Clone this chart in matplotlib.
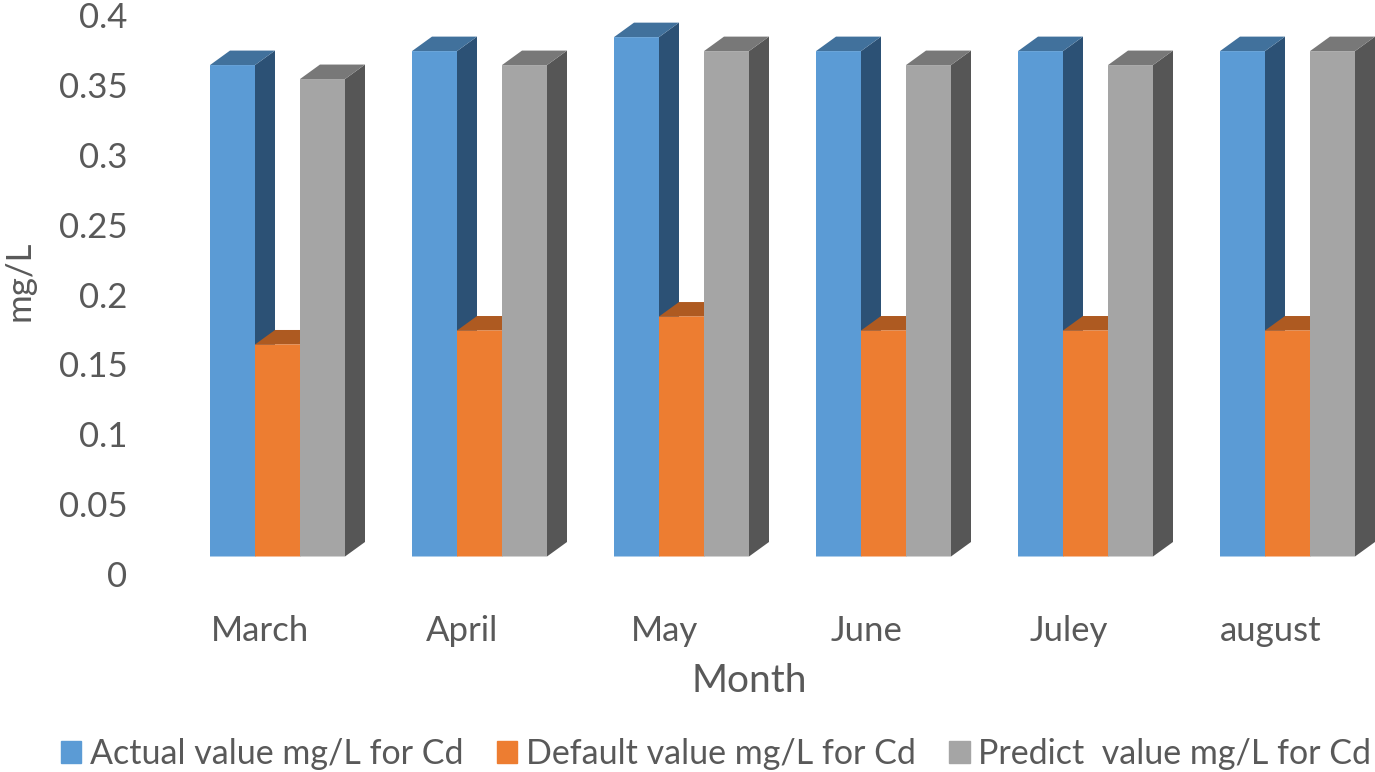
import matplotlib
matplotlib.use("Agg")
import matplotlib.pyplot as plt
from matplotlib.patches import Polygon, Patch

months = ["March", "April", "May", "June", "Juley", "august"]
actual = [0.36, 0.37, 0.38, 0.37, 0.37, 0.37]
default = [0.16, 0.17, 0.18, 0.17, 0.17, 0.17]
predict = [0.35, 0.36, 0.37, 0.36, 0.36, 0.37]
series_names = ["Actual value mg/L for Cd", "Default value mg/L for Cd", "Predict  value mg/L for Cd"]
y_ticks = [0, 0.05, 0.1, 0.15, 0.2, 0.25, 0.3, 0.35, 0.4]
y_tick_labels = ["0", "0.05", "0.1", "0.15", "0.2", "0.25", "0.3", "0.35", "0.4"]

W, H = 1375, 772
plt.rcParams["font.family"] = ["Lato", "DejaVu Sans"]
fig = plt.figure(figsize=(W / 100, H / 100), dpi=100, facecolor="white")

PX_X = 202.0      # pixels per category
PX_Y = 1397.0     # pixels per unit
X0 = 277.5        # pixel of first group's centre
Y0 = 568.0        # pixel of value 0 for bars
FLOOR = (Y0 - 556.5) / PX_Y
BW = 45 / PX_X
DX = 20 / PX_X
DY = 14.5 / PX_Y

ax = fig.add_axes([0, 0, 1, 1])
ax.set_xlim(-X0 / PX_X, (W - X0) / PX_X)
ax.set_ylim((Y0 - H) / PX_Y, Y0 / PX_Y)
ax.axis("off")

styles = [("#5B9BD5", "#41719C", "#2C5175"),
          ("#ED7D31", "#AE5A21", "#843C0C"),
          ("#A5A5A5", "#787878", "#565656")]
all_series = [actual, default, predict]

for i in range(len(months)):
    for k, vals in enumerate(all_series):
        front, top, side = styles[k]
        left = i + (k - 1.5) * BW
        v = vals[i]
        ax.add_patch(Polygon([(left + BW, FLOOR), (left + BW + DX, FLOOR + DY),
                              (left + BW + DX, v + DY), (left + BW, v)],
                             closed=True, fc=side, ec="none", zorder=2 + i * 3 + k))
        ax.add_patch(Polygon([(left, v), (left + DX, v + DY),
                              (left + BW + DX, v + DY), (left + BW, v)],
                             closed=True, fc=top, ec="none", zorder=2 + i * 3 + k))
        ax.bar(left, v - FLOOR, BW, bottom=FLOOR, align="edge", color=front,
               linewidth=0, zorder=2 + i * 3 + k, snap=False)

# Axis labels live on a transparent axes whose scale holds the printed tick positions
L, B = 133.0, 600.0
lab = fig.add_axes([L / W, (H - B) / H, 1 - L / W, B / H], facecolor="none")
lab.set_xlim((L - 260.5) / PX_X, (W - 260.5) / PX_X)
lab.set_ylim(-(B - 574) / PX_Y, 574 / PX_Y)
for s in lab.spines.values():
    s.set_visible(False)
lab.set_yticks(y_ticks, y_tick_labels)
lab.set_xticks(range(len(months)), months)
lab.tick_params(axis="y", length=0, pad=4, labelsize=25, labelcolor="#595959")
lab.tick_params(axis="x", length=0, pad=11, labelsize=25, labelcolor="#595959")
lab.set_xlabel("Month", fontsize=28, color="#595959", va="center")
lab.xaxis.set_label_coords(749 / W, 1 - 681 / H, transform=fig.transFigure)
lab.set_ylabel("mg/L", fontsize=25, color="#595959", va="center")
lab.yaxis.set_label_coords(20 / W, 1 - 281 / H, transform=fig.transFigure)

handles = [Patch(color=s[0]) for s in styles]
fig.legend(handles, series_names, ncol=3, loc="center", bbox_to_anchor=(716 / W, 1 - 754 / H),
           frameon=False, fontsize=24.5, labelcolor="#595959", handlelength=0.6, handleheight=0.6,
           handletextpad=0.26, columnspacing=0.98, borderpad=0, borderaxespad=0)

fig.savefig("out.png", dpi=100)
